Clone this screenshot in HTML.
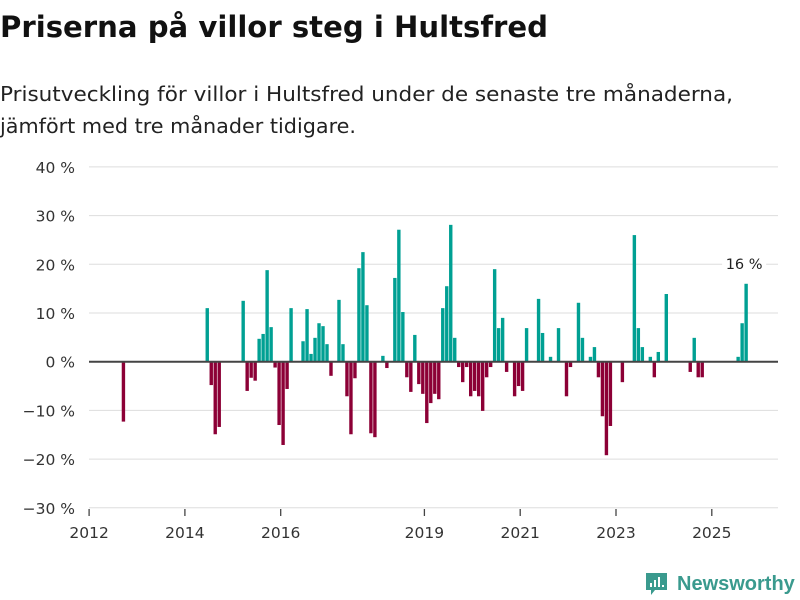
<!DOCTYPE html>
<html><head><meta charset="utf-8">
<style>
body{margin:0;background:#fff;width:800px;height:600px;overflow:hidden;font-family:"DejaVu Sans","Liberation Sans",sans-serif;}
svg{display:block}
</style></head>
<body>
<svg id="chart" width="800" height="600">
<text x="0" y="37" font-size="29" font-weight="bold" fill="#111" textLength="548" lengthAdjust="spacingAndGlyphs">Priserna på villor steg i Hultsfred</text>
<text x="0" y="101" font-size="20.5" fill="#222" textLength="733" lengthAdjust="spacingAndGlyphs">Prisutveckling för villor i Hultsfred under de senaste tre månaderna,</text>
<text x="0" y="133" font-size="20.5" fill="#222" textLength="356" lengthAdjust="spacingAndGlyphs">jämfört med tre månader tidigare.</text>
<g id="grid"></g>
<g id="bars"></g>
<g id="axes"></g>
<g>
<path d="M646 573h21v17h-12l-4 5v-5h-5z" fill="#3a9a8e"/>
<rect x="650" y="583" width="2" height="4" fill="#fff"/><rect x="654" y="580" width="2" height="7" fill="#fff"/><rect x="658" y="577" width="2" height="10" fill="#fff"/><rect x="662" y="585" width="2" height="2" fill="#fff"/>
<text x="677" y="590" font-size="20" font-weight="bold" fill="#3a9a8e" font-family="Liberation Sans, sans-serif">Newsworthy</text>
</g>
</svg>
<script>
// months since Jan 2012 (index) and values in %
const monthIndex = [9,30,31,32,33,39,40,41,42,43,44,45,46,47,48,49,50,51,54,55,56,57,58,59,60,61,63,64,65,66,67,68,69,70,71,72,74,75,77,78,79,80,81,82,83,84,85,86,87,88,89,90,91,92,93,94,95,96,97,98,99,100,101,102,103,104,105,107,108,109,110,113,114,116,118,120,121,123,124,126,127,128,129,130,131,134,137,138,139,141,142,143,145,151,152,153,154,163,164,165];
const values = [-12.3,11.0,-4.8,-14.9,-13.4,12.5,-6.0,-3.3,-3.9,4.7,5.7,18.8,7.1,-1.2,-13.0,-17.1,-5.6,11.0,4.2,10.8,1.6,4.9,7.9,7.3,3.6,-2.9,12.7,3.6,-7.1,-14.9,-3.4,19.2,22.5,11.6,-14.7,-15.5,1.2,-1.3,17.2,27.1,10.2,-3.2,-6.2,5.5,-4.6,-6.6,-12.6,-8.5,-6.6,-7.7,11.0,15.5,28.1,4.9,-1.1,-4.2,-1.1,-7.1,-6.0,-7.1,-10.1,-3.2,-1.1,19.0,6.9,9.0,-2.1,-7.1,-5.0,-6.0,6.9,12.9,5.9,1.0,6.9,-7.1,-1.1,12.1,4.9,1.0,3.0,-3.2,-11.2,-19.2,-13.2,-4.2,26.0,6.9,3.0,1.0,-3.2,2.0,13.9,-2.1,4.9,-3.2,-3.2,1.0,7.9,16.0];
const yTicks = [40,30,20,10,0,-10,-20,-30];
const yTickLabels = ["40 %","30 %","20 %","10 %","0 %","−10 %","−20 %","−30 %"];
const xTickYears = [2012,2014,2016,2019,2021,2023,2025];
const lastLabel = "16 %";

const NS="http://www.w3.org/2000/svg";
function y(v){return 361.7 - v*4.87;}
function x(yearFrac){return 89.1 + (yearFrac-2012)*47.9;}
function mk(tag,attrs,parent){const e=document.createElementNS(NS,tag);for(const k in attrs)e.setAttribute(k,attrs[k]);parent.appendChild(e);return e;}
const grid=document.getElementById('grid'),bars=document.getElementById('bars'),axes=document.getElementById('axes');
yTicks.forEach((t,i)=>{
  if(t!==0){const l=mk('line',{x1:89,x2:778,y1:y(t),y2:y(t),stroke:'#dddddd','stroke-width':1},grid);
  
  }
  const tx=mk('text',{x:75,y:y(t)+6,'text-anchor':'end','font-size':15.5,fill:'#333'},axes);
  tx.textContent=yTickLabels[i];
  
  
});
monthIndex.forEach((m,i)=>{
  const v=values[i];
  const cx=x(2012+(m-0.4)/12);
  const top=v>=0?y(v):y(0), h=Math.abs(y(v)-y(0));
  const r=mk('rect',{x:cx-1.7,y:top,width:3.4,height:h,fill:v>=0?'#00a093':'#8c0036'},bars);
  
  
});
const zl=mk('line',{x1:89,x2:778,y1:y(0),y2:y(0),stroke:'#444','stroke-width':2},axes);


xTickYears.forEach(yr=>{
  const tk=mk('line',{x1:x(yr),x2:x(yr),y1:509,y2:516,stroke:'#444','stroke-width':1.3},axes);
  
  
  const t=mk('text',{x:x(yr),y:538,'text-anchor':'middle','font-size':15.5,fill:'#333'},axes);
  t.textContent=yr;
  
  
});
const lm=monthIndex[monthIndex.length-1],lv=values[values.length-1];
const bg=mk('rect',{x:x(2012+(lm-0.4)/12)-24,y:y(lv)-33,width:44,height:20,fill:'#fff'},axes);


const lt=mk('text',{x:x(2012+(lm-0.4)/12)-2,y:y(lv)-15,'text-anchor':'middle','font-size':14.5,fill:'#222'},axes);
lt.textContent=lastLabel;


</script>
</body></html>
